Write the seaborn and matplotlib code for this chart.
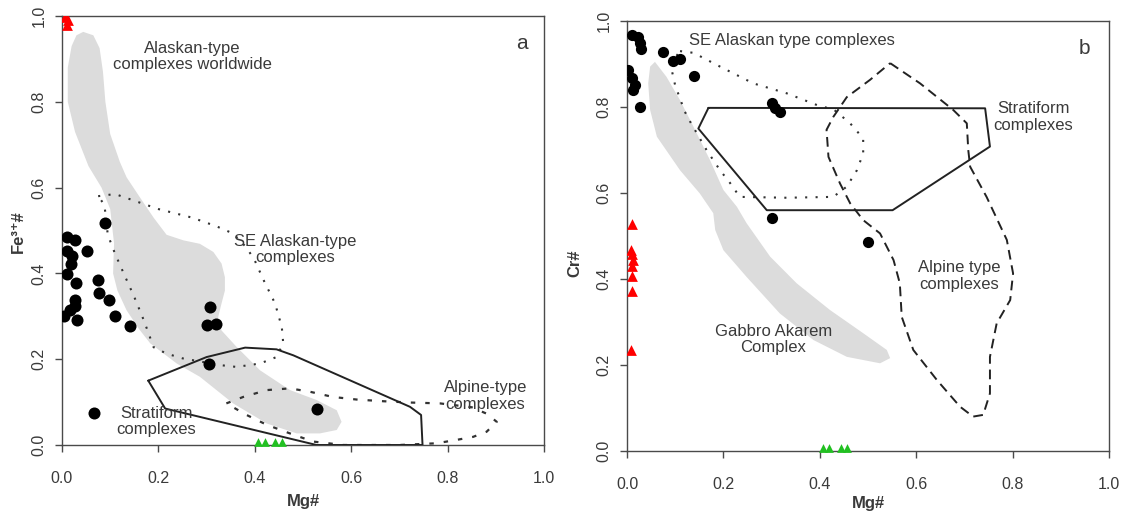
import matplotlib
matplotlib.use("Agg")
import matplotlib.pyplot as plt
import pandas as pd
import seaborn as sns

# ---------------- Panel a: Mg# vs Fe3+# ----------------
a_dot_mg = [0.089, 0.010, 0.027, 0.052, 0.011, 0.020, 0.018, 0.011, 0.030, 0.074,
            0.077, 0.098, 0.027, 0.026, 0.017, 0.005, 0.032, 0.111, 0.141, 0.307,
            0.300, 0.320, 0.304, 0.066, 0.530]
a_dot_fe = [0.518, 0.486, 0.478, 0.452, 0.453, 0.440, 0.423, 0.398, 0.378, 0.384,
            0.354, 0.337, 0.339, 0.325, 0.314, 0.300, 0.292, 0.300, 0.277, 0.322,
            0.279, 0.281, 0.188, 0.075, 0.084]
a_red_mg = [0.006, 0.012, 0.010]
a_red_fe = [0.998, 0.990, 0.978]
a_green_mg = [0.407, 0.421, 0.442, 0.456]
a_green_fe = [0.006, 0.006, 0.006, 0.006]

# Alaskan-type complexes worldwide (grey field)
a_world_x = [0.044, 0.065, 0.078, 0.085, 0.090, 0.100, 0.120, 0.134, 0.160, 0.190,
             0.217, 0.252, 0.286, 0.314, 0.331, 0.338, 0.338, 0.331, 0.324, 0.331,
             0.362, 0.411, 0.473, 0.528, 0.570, 0.580, 0.570, 0.535, 0.487, 0.425,
             0.355, 0.286, 0.238, 0.183, 0.160, 0.134, 0.115, 0.106, 0.108, 0.100,
             0.082, 0.055, 0.027, 0.012, 0.012, 0.020, 0.030]
a_world_y = [0.963, 0.955, 0.925, 0.870, 0.800, 0.725, 0.660, 0.624, 0.580, 0.530,
             0.490, 0.477, 0.469, 0.450, 0.423, 0.391, 0.360, 0.330, 0.298, 0.267,
             0.229, 0.174, 0.128, 0.105, 0.081, 0.054, 0.035, 0.027, 0.027, 0.050,
             0.097, 0.159, 0.190, 0.237, 0.270, 0.314, 0.360, 0.400, 0.470, 0.550,
             0.600, 0.650, 0.730, 0.800, 0.880, 0.930, 0.955]

# SE Alaskan-type complexes (dotted field)
a_seak_x = [0.075, 0.110, 0.200, 0.270, 0.320, 0.355, 0.383, 0.400, 0.418, 0.442,
            0.456, 0.459, 0.445, 0.411, 0.362, 0.330, 0.250, 0.217, 0.190, 0.170,
            0.150, 0.130, 0.110, 0.095, 0.088, 0.075]
a_seak_y = [0.580, 0.585, 0.550, 0.530, 0.510, 0.493, 0.460, 0.430, 0.385, 0.330,
            0.275, 0.237, 0.205, 0.190, 0.182, 0.186, 0.202, 0.213, 0.228, 0.290,
            0.345, 0.395, 0.446, 0.490, 0.560, 0.580]

# Stratiform complexes (solid field)
a_strat_x = [0.179, 0.300, 0.380, 0.445, 0.480, 0.722, 0.745, 0.748, 0.528, 0.214, 0.179]
a_strat_y = [0.150, 0.205, 0.227, 0.223, 0.209, 0.089, 0.070, 0.000, 0.000, 0.085, 0.150]

# Alpine-type complexes (dashed field)
a_alp_x = [0.341, 0.376, 0.425, 0.473, 0.515, 0.562, 0.611, 0.667, 0.722, 0.784,
           0.850, 0.881, 0.902, 0.881, 0.853, 0.819, 0.777, 0.700, 0.584, 0.521,
           0.473, 0.425, 0.383, 0.341]
a_alp_y = [0.097, 0.112, 0.128, 0.132, 0.124, 0.112, 0.106, 0.102, 0.099, 0.097,
           0.088, 0.073, 0.054, 0.031, 0.019, 0.012, 0.004, 0.000, 0.000, 0.008,
           0.027, 0.047, 0.070, 0.097]

# ---------------- Panel b: Mg# vs Cr# ----------------
b_dot_mg = [0.010, 0.023, 0.027, 0.030, 0.075, 0.095, 0.110, 0.139, 0.003, 0.010,
            0.017, 0.013, 0.028, 0.300, 0.307, 0.317, 0.301, 0.500]
b_dot_cr = [0.967, 0.963, 0.948, 0.936, 0.929, 0.908, 0.911, 0.871, 0.886, 0.867,
            0.851, 0.840, 0.801, 0.809, 0.797, 0.789, 0.541, 0.486]
b_red_mg = [0.010, 0.008, 0.010, 0.012, 0.011, 0.010, 0.010, 0.009]
b_red_cr = [0.528, 0.467, 0.458, 0.445, 0.430, 0.407, 0.372, 0.234]
b_green_mg = [0.407, 0.420, 0.443, 0.456]
b_green_cr = [0.006, 0.006, 0.006, 0.006]

# Gabbro Akarem Complex (grey field)
b_gak_x = [0.058, 0.082, 0.110, 0.138, 0.172, 0.200, 0.228, 0.248, 0.297, 0.352,
           0.421, 0.490, 0.539, 0.546, 0.525, 0.456, 0.387, 0.317, 0.248, 0.200,
           0.183, 0.179, 0.151, 0.110, 0.062, 0.048, 0.044, 0.048, 0.058]
b_gak_y = [0.905, 0.870, 0.816, 0.754, 0.677, 0.607, 0.568, 0.530, 0.452, 0.390,
           0.328, 0.274, 0.235, 0.216, 0.204, 0.219, 0.258, 0.320, 0.405, 0.467,
           0.514, 0.553, 0.599, 0.653, 0.731, 0.793, 0.855, 0.894, 0.905]

# SE Alaskan type complexes (dotted field)
b_seak_x = [0.110, 0.138, 0.193, 0.262, 0.331, 0.400, 0.428, 0.463, 0.490, 0.490,
            0.477, 0.456, 0.428, 0.331, 0.234, 0.214, 0.193, 0.165, 0.131, 0.120,
            0.100, 0.090, 0.110]
b_seak_y = [0.930, 0.926, 0.894, 0.855, 0.832, 0.802, 0.795, 0.762, 0.727, 0.692,
            0.653, 0.615, 0.591, 0.589, 0.591, 0.623, 0.653, 0.700, 0.766, 0.789,
            0.850, 0.900, 0.930]

# Stratiform complexes (solid field)
b_strat_x = [0.169, 0.743, 0.753, 0.551, 0.290, 0.148, 0.169]
b_strat_y = [0.798, 0.797, 0.708, 0.560, 0.560, 0.750, 0.798]

# Alpine type complexes (dashed field)
b_alp_x = [0.546, 0.608, 0.677, 0.705, 0.708, 0.712, 0.746, 0.788, 0.801, 0.795,
           0.767, 0.753, 0.753, 0.739, 0.718, 0.691, 0.643, 0.594, 0.570, 0.566,
           0.553, 0.525, 0.490, 0.463, 0.442, 0.418, 0.414, 0.428, 0.456, 0.504, 0.546]
b_alp_y = [0.902, 0.855, 0.793, 0.762, 0.700, 0.661, 0.591, 0.491, 0.413, 0.351,
           0.297, 0.219, 0.134, 0.084, 0.080, 0.103, 0.165, 0.235, 0.312, 0.390,
           0.444, 0.506, 0.537, 0.576, 0.622, 0.684, 0.747, 0.777, 0.823, 0.863, 0.902]

ticks = [0.0, 0.2, 0.4, 0.6, 0.8, 1.0]
tick_labels = ["0.0", "0.2", "0.4", "0.6", "0.8", "1.0"]

sns.set_theme(style="ticks")
plt.rcParams["font.family"] = ["Liberation Sans", "DejaVu Sans"]

AX_COL = "#4a4a4a"
TXT_COL = "#3a3a3a"
GREY = "#dcdcdc"

fig = plt.figure(figsize=(11.26, 5.2), dpi=100)
fig.patch.set_facecolor("white")
ax_a = fig.add_axes([0.05506, 0.14423, 0.42806, 0.8250])
ax_b = fig.add_axes([0.55684, 0.13269, 0.42806, 0.8269])


def style_axes(ax, ylabel, xlab_y, ylab_x, ylab_y):
    ax.set_xlim(0, 1)
    ax.set_ylim(0, 1)
    ax.set_facecolor("white")
    for sp in ax.spines.values():
        sp.set_visible(True)
        sp.set_color(AX_COL)
        sp.set_linewidth(1.0)
    ax.set_xticks(ticks)
    ax.set_xticklabels(tick_labels)
    ax.set_yticks(ticks)
    ax.set_yticklabels(tick_labels)
    ax.tick_params(axis="both", direction="out", length=5, width=1.0,
                   color=AX_COL, labelcolor=TXT_COL, labelsize=11.5)
    ax.tick_params(axis="x", pad=14)
    ax.tick_params(axis="y", pad=6)
    for lab in ax.get_yticklabels():
        lab.set_rotation(90)
        lab.set_va("center")
    ax.set_xlabel("Mg#", fontsize=12, fontweight="bold", color=TXT_COL)
    ax.set_ylabel(ylabel, fontsize=12, fontweight="bold", color=TXT_COL,
                  family=["Liberation Sans", "DejaVu Sans"])
    ax.xaxis.set_label_coords(0.5, xlab_y)
    ax.yaxis.set_label_coords(ylab_x, ylab_y)


def dots(ax, x, y, **kw):
    sns.scatterplot(data=pd.DataFrame({"x": x, "y": y}), x="x", y="y", ax=ax,
                    legend=False, linewidth=0, zorder=5, **kw)


txt = dict(color=TXT_COL, fontsize=12, ha="center", va="center", linespacing=1.1)

# ---- panel a ----
ax = ax_a
ax.fill(a_world_x, a_world_y, color=GREY, lw=0, zorder=1)
ax.plot(a_seak_x, a_seak_y, color="#333333", lw=1.5, ls=(0, (1, 4)), zorder=2)
ax.plot(a_strat_x, a_strat_y, color="#222222", lw=1.4, zorder=3)
ax.plot(a_alp_x, a_alp_y, color="#333333", lw=1.6, ls=(0, (2, 4.5)), zorder=2)
dots(ax, a_dot_mg, a_dot_fe, color="black", s=75, marker="o")
dots(ax, a_red_mg, a_red_fe, color="#ff0000", s=60, marker="^")
dots(ax, a_green_mg, a_green_fe, color="#22c022", s=40, marker="^", clip_on=False)
ax.text(0.27, 0.906, "Alaskan-type\ncomplexes worldwide", **txt)
ax.text(0.483, 0.455, "SE Alaskan-type\ncomplexes", **txt)
ax.text(0.878, 0.114, "Alpine-type\ncomplexes", **txt)
ax.text(0.196, 0.054, "Stratiform\ncomplexes", **txt)
ax.text(0.955, 0.935, "a", color=TXT_COL, fontsize=15, ha="center", va="center")
style_axes(ax, "Fe\u00b3\u207a#", -0.115, -0.075, 0.497)

# ---- panel b ----
ax = ax_b
ax.fill(b_gak_x, b_gak_y, color=GREY, lw=0, zorder=1)
ax.plot(b_seak_x, b_seak_y, color="#333333", lw=1.5, ls=(0, (1, 4)), zorder=2)
ax.plot(b_strat_x, b_strat_y, color="#222222", lw=1.4, zorder=3)
ax.plot(b_alp_x, b_alp_y, color="#222222", lw=1.4, ls=(0, (5, 3)), zorder=3)
dots(ax, b_dot_mg, b_dot_cr, color="black", s=65, marker="o")
dots(ax, b_red_mg, b_red_cr, color="#ff0000", s=60, marker="^")
dots(ax, b_green_mg, b_green_cr, color="#22c022", s=40, marker="^", clip_on=False)
ax.text(0.342, 0.954, "SE Alaskan type complexes", **txt)
ax.text(0.843, 0.777, "Stratiform\ncomplexes", **txt)
ax.text(0.69, 0.407, "Alpine type\ncomplexes", **txt)
ax.text(0.304, 0.26, "Gabbro Akarem\nComplex", **txt)
ax.text(0.95, 0.937, "b", color=TXT_COL, fontsize=15, ha="center", va="center")
style_axes(ax, "Cr#", -0.105, -0.092, 0.437)

fig.savefig("out.png", dpi=100, facecolor="white")
